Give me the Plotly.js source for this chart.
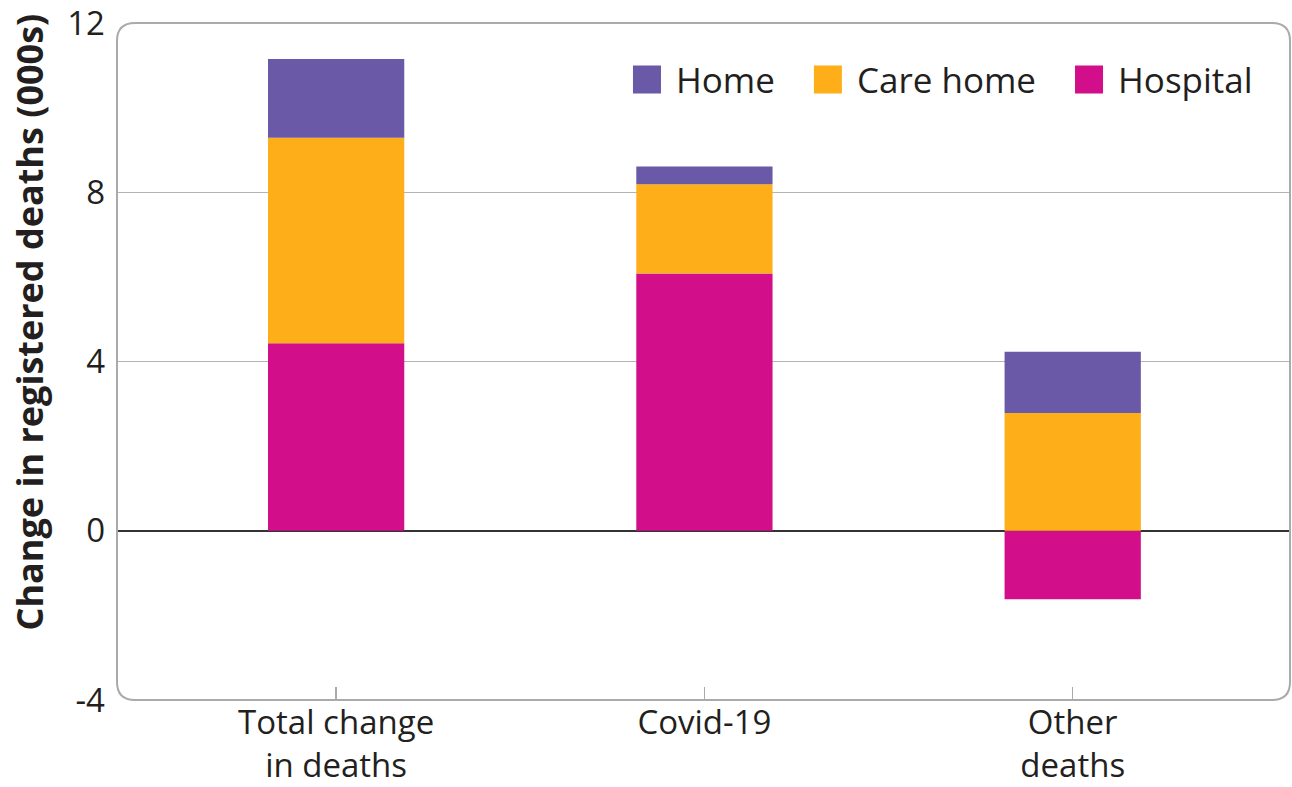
<!DOCTYPE html>
<html>
<head>
<meta charset="utf-8">
<script src="https://cdn.plot.ly/plotly-3.0.1.min.js"></script>
<style>html,body{margin:0;padding:0;background:#fff;}#chart{width:1292px;height:787px;}</style>
</head>
<body>
<div id="chart"></div>
<script>
var categories = ["Total change<br>in deaths", "Covid-19", "Other<br>deaths"];
var hospital = [4.43, 6.08, -1.62];
var careHome = [4.86, 2.11, 2.78];
var home = [1.86, 0.42, 1.45];
var yTicks = [-4, 0, 4, 8, 12];
var yTickLabels = ["-4", "0", "4", "8", "12"];

var FONT = "Open Sans, sans-serif";
var TXT = "#231f20";

function bar(name, vals, color) {
  return {type: "bar", name: name, x: [0, 1, 2], y: vals, width: 0.37,
    marker: {color: color, line: {width: 0}}, hoverinfo: "y+name"};
}
var data = [
  bar("Hospital", hospital, "#D20E8A"),
  bar("Care home", careHome, "#FDAE18"),
  bar("Home", home, "#6A59A6")
];

var rx = 18 / 1173, ry = 18 / 677;
var border = "M" + rx + ",0 L" + (1 - rx) + ",0 Q1,0 1," + ry +
  " L1," + (1 - ry) + " Q1,1 " + (1 - rx) + ",1 L" + rx + ",1 Q0,1 0," + (1 - ry) +
  " L0," + ry + " Q0,0 " + rx + ",0 Z";

var layout = {
  width: 1292, height: 787,
  margin: {l: 117, r: 2, t: 23, b: 87},
  paper_bgcolor: "#fff", plot_bgcolor: "#fff",
  barmode: "relative",
  font: {family: FONT, color: TXT, size: 35},
  showlegend: true,
  legend: {orientation: "h", traceorder: "reversed", x: 0.9727, xanchor: "right", y: 0.916, yanchor: "middle",
    font: {family: FONT, size: 35, color: TXT}, bgcolor: "rgba(0,0,0,0)", itemwidth: 67, itemclick: false},
  xaxis: {range: [-0.595, 2.59], tickmode: "array", tickvals: [0, 1, 2], ticktext: categories,
    showgrid: false, zeroline: false, showline: false, ticks: "inside", ticklen: 13, tickwidth: 1.5,
    tickcolor: "#aaaaaa", tickfont: {family: FONT, size: 33, color: TXT}, ticklabelstandoff: 0,
    ticklabeloverflow: "allow", fixedrange: true},
  yaxis: {range: [-4, 12], tickmode: "array", tickvals: yTicks, ticktext: yTickLabels,
    showgrid: true, gridcolor: "#b4b4b4", gridwidth: 1.5, zeroline: true, zerolinecolor: "#333333",
    zerolinewidth: 2, showline: false, ticks: "", tickfont: {family: FONT, size: 33, color: TXT},
    ticklabelstandoff: 11, ticklabeloverflow: "allow", fixedrange: true},
  shapes: [{type: "path", xref: "paper", yref: "paper", path: border,
    line: {color: "#aaaaaa", width: 2}, fillcolor: "rgba(0,0,0,0)", layer: "above"}],
  annotations: [{xref: "paper", yref: "paper", x: -0.0742, y: 0.559, xanchor: "center", yanchor: "middle",
    text: "<b>Change in registered deaths (000s)</b>", textangle: -90, showarrow: false,
    font: {family: FONT, size: 36, color: TXT}}]
};

Plotly.newPlot("chart", data, layout, {displayModeBar: false, staticPlot: true}).then(function (gd) {
  // enlarge the legend swatches to the reference's square size
  var items = gd.querySelectorAll(".legend .traces");
  items.forEach(function (t) {
    var path = t.querySelector(".legendpoints path");
    var text = t.querySelector("text.legendtext");
    if (!path || !text) return;
    var pb = path.getBoundingClientRect();
    var tb = text.getBoundingClientRect();
    var bb = path.getBBox();
    var cx = bb.x + bb.width / 2, cy = bb.y + bb.height / 2;
    var s = 28 / bb.width;
    var dx = (tb.left - 15 - 14) - (pb.left + pb.width / 2);
    var old = path.getAttribute("transform") || "";
    path.setAttribute("transform", old + " translate(" + (cx + dx) + "," + cy + ") scale(" + s + ") translate(" + (-cx) + "," + (-cy) + ")");
  });
});
</script>
</body>
</html>
